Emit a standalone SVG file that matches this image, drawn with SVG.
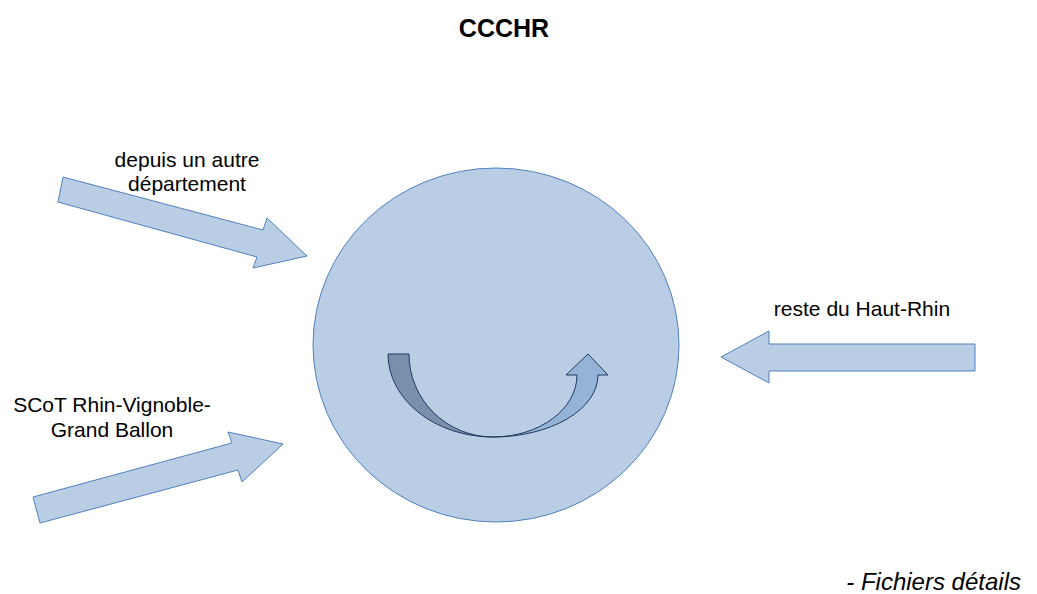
<svg xmlns="http://www.w3.org/2000/svg" width="1037" height="594" viewBox="0 0 1037 594">
<style>
.t{font-family:"Liberation Sans",Arial,sans-serif;font-size:21px;fill:#000;text-anchor:middle}
.blk{fill:#b9cde5;stroke:#4f81bd;stroke-width:1}
</style>
<rect width="1037" height="594" fill="#fff"/>
<text x="504" y="37" class="t" style="font-weight:bold;font-size:25px">CCCHR</text>
<g id="circle">
<ellipse cx="496" cy="345" rx="183" ry="177" class="blk"/>
</g>
<g id="uturn">
<path d="M388,354 A105,83 0 0 0 493,437 A84,83 0 0 1 409,354 Z" fill="#7a8fab" stroke="#1f3a5f" stroke-width="1"/>
<path d="M493,437 A105,62 0 0 0 598,375 L608,375 L588,354 L566,375 L577,375 A84,62 0 0 1 493,437 Z" fill="#95b3d7" stroke="#1f3a5f" stroke-width="1"/>
</g>
<g id="connectors">
<path d="M63,177 L263,230 L267,218 L307,256 L253,268 L257,257 L58,202 Z" class="blk"/>
<path d="M33,497 L232,443 L228,432 L283,444 L242,482 L238,470 L40,523 Z" class="blk"/>
<path d="M721,357 L769,331 L769,344 L975,344 L975,371 L769,371 L769,383 Z" class="blk"/>
</g>
<g id="labels">
<text x="187" y="167" class="t">depuis un autre</text>
<text x="187" y="191" class="t">département</text>
<text x="862" y="316" class="t">reste du Haut-Rhin</text>
<text x="112" y="412" class="t">SCoT Rhin-Vignoble-</text>
<text x="112" y="437" class="t">Grand Ballon</text>
<text x="1021" y="590" class="t" style="text-anchor:end;font-style:italic;font-size:24px">- Fichiers détails</text>
</g>
</svg>
